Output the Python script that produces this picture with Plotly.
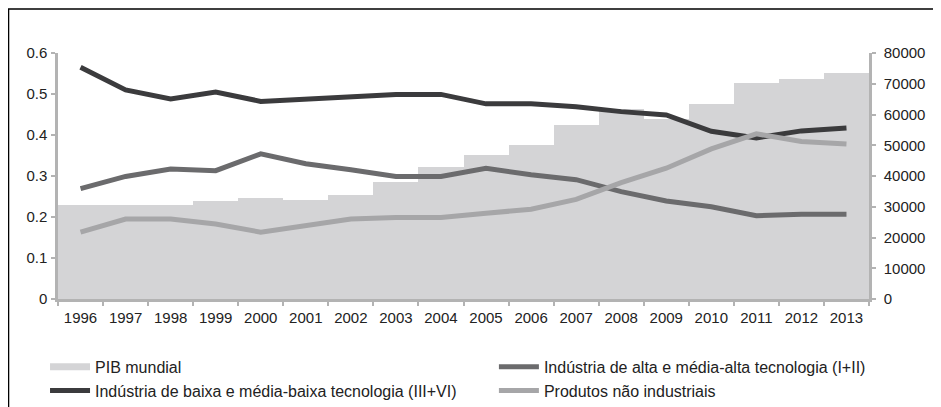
import plotly.graph_objects as go

years = [str(y) for y in range(1996, 2014)]
pib_mundial = [30600, 30600, 30600, 31800, 32700, 32200, 33800, 38200, 43000, 46700,
               50200, 56600, 61700, 58400, 63400, 70300, 71400, 73500]
alta_tec = [0.269, 0.299, 0.317, 0.313, 0.354, 0.330, 0.315, 0.299, 0.299, 0.319,
            0.303, 0.291, 0.262, 0.239, 0.225, 0.203, 0.207, 0.207]
baixa_tec = [0.565, 0.510, 0.488, 0.505, 0.482, 0.488, 0.493, 0.499, 0.499, 0.476,
             0.476, 0.469, 0.457, 0.449, 0.409, 0.393, 0.410, 0.417]
nao_ind = [0.163, 0.195, 0.195, 0.183, 0.163, 0.178, 0.195, 0.199, 0.199, 0.209,
           0.219, 0.243, 0.284, 0.319, 0.366, 0.403, 0.384, 0.378]

names = ["PIB mundial",
         "Indústria de alta e média-alta tecnologia (I+II)",
         "Indústria de baixa e média-baixa tecnologia (III+VI)",
         "Produtos não industriais"]

c_pib = "#d4d4d6"
c_alta = "#6b6b6d"
c_baixa = "#3b3b3d"
c_nao = "#a6a6a8"

fig = go.Figure()
fig.add_trace(go.Bar(x=years, y=pib_mundial, marker=dict(color=c_pib, line=dict(width=0)),
                     showlegend=False, yaxis="y"))
# legend entry for the GDP area
fig.add_trace(go.Scatter(x=[None], y=[None], mode="lines", name=names[0],
                         line=dict(color=c_pib, width=7), yaxis="y2", legend="legend"))
fig.add_trace(go.Scatter(x=years, y=alta_tec, mode="lines", name=names[1],
                         line=dict(color=c_alta, width=5), yaxis="y2", legend="legend2"))
fig.add_trace(go.Scatter(x=years, y=baixa_tec, mode="lines", name=names[2],
                         line=dict(color=c_baixa, width=5), yaxis="y2", legend="legend"))
fig.add_trace(go.Scatter(x=years, y=nao_ind, mode="lines", name=names[3],
                         line=dict(color=c_nao, width=5), yaxis="y2", legend="legend2"))

axis_col = "#b3b3b3"
tick_font = dict(family="Liberation Sans, Arial, sans-serif", size=15, color="#222222")
leg_font = dict(family="Liberation Sans, Arial, sans-serif", size=16, color="#222222")

fig.update_layout(
    width=933, height=399,
    margin=dict(l=50, r=72, t=45, b=108, autoexpand=False),
    paper_bgcolor="white", plot_bgcolor="white",
    bargap=0,
    showlegend=True,
    xaxis=dict(type="category", tickson="boundaries", ticks="outside", ticklen=4,
               tickcolor=axis_col, tickwidth=2, showline=True, linecolor=axis_col,
               linewidth=2.5, showgrid=False, tickfont=tick_font, zeroline=False,
               tickangle=0, ticklabelstandoff=3),
    yaxis=dict(side="right", range=[0, 80000], dtick=10000, ticks="outside", ticklen=4,
               tickcolor=axis_col, tickwidth=2, showline=True, linecolor=axis_col,
               linewidth=2.5, showgrid=False, zeroline=False, tickfont=tick_font,
               tickformat="d", ticklabelstandoff=5),
    yaxis2=dict(overlaying="y", side="left", range=[0, 0.6], dtick=0.1, ticks="outside",
                ticklen=4, tickcolor=axis_col, tickwidth=2, showline=True,
                linecolor=axis_col, linewidth=2.5, showgrid=False, zeroline=False,
                tickfont=tick_font, tickformat="~g", ticklabelstandoff=1),
    legend=dict(orientation="v", x=-0.016, xanchor="left", y=-0.207, yanchor="top",
                traceorder="normal", font=leg_font, bgcolor="rgba(0,0,0,0)",
                itemwidth=40, tracegroupgap=0),
    legend2=dict(orientation="v", x=0.5375, xanchor="left", y=-0.207, yanchor="top",
                 traceorder="normal", font=leg_font, bgcolor="rgba(0,0,0,0)",
                 itemwidth=40, tracegroupgap=0),
    shapes=[dict(type="rect", xref="paper", yref="paper", x0=-0.061, x1=1.3,
                 y0=-0.8, y1=1.179, line=dict(color="black", width=1.5),
                 fillcolor="rgba(0,0,0,0)", layer="below")],
)

fig.write_html("out.html")
